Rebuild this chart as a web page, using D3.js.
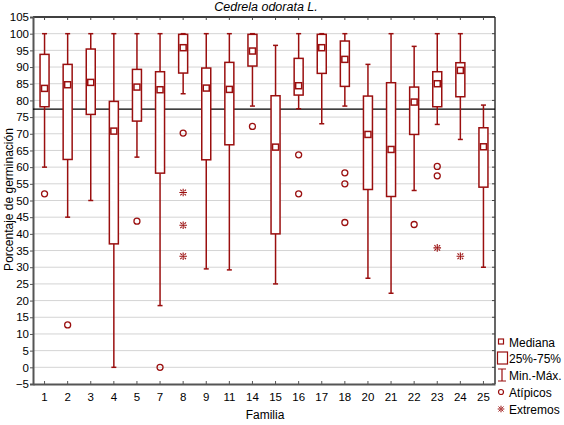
<!DOCTYPE html>
<html lang="es">
<head>
<meta charset="utf-8">
<title>Cedrela odorata L.</title>
<script src="https://d3js.org/d3.v7.min.js"></script>
<style>
  body { margin: 0; background: #fff; }
  svg { display: block; font-family: "Liberation Sans", Arial, sans-serif; }
</style>
</head>
<body>
<script>
// values
const familias = ["1","2","3","4","5","7","8","9","11","14","15","16","17","18","20","21","22","23","24","25"];
const minimos  = [60, 45, 50, 0, 63, 18.5, 82, 29.5, 29.2, 78.3, 25, 77.5, 73, 78.3, 26.7, 22.2, 53, 72.8, 68.3, 30];
const q1       = [78.1, 62.3, 75.8, 37, 73.8, 58.2, 88.2, 62.2, 66.7, 90.3, 40, 81.6, 88.1, 84.2, 53.3, 51.2, 69.8, 78.1, 81.1, 54];
const medianas = [83.6, 84.7, 85.4, 70.8, 84, 83.2, 95.8, 83.7, 83.3, 94.8, 66, 84.4, 95.8, 92.3, 69.8, 65.3, 79.5, 85, 89, 66.1];
const q3       = [93.8, 90.8, 95.4, 79.7, 89.3, 88.6, 99.8, 89.7, 91.4, 99.8, 81.4, 92.6, 99.8, 97.8, 81.3, 85.3, 84, 88.6, 91.3, 71.8];
const maximos  = [100, 100, 100, 100, 100, 100, 100, 100, 100, 100, 96.5, 100, 100, 100, 90.8, 100, 96.2, 100, 100, 78.6];
const atipicos = [[52], [12.7], [], [], [43.8], [0], [70.2], [], [], [72.2], [], [63.7, 52], [], [58.3, 55, 43.4], [], [], [42.8], [60.2, 57.4], [], []];
const extremos = [[], [], [], [], [], [], [52.4, 42.6, 33.3], [], [], [], [], [], [], [], [], [], [], [35.8], [33.3], []];
const media = 77.4;
const yTicks = d3.range(-5, 106, 5);

const W = 564, H = 425;
const m = { top: 17, right: 69, bottom: 41, left: 33 };
const red = "#9a0f0f";
const fs = 12;

const svg = d3.select("body").append("svg").attr("width", W).attr("height", H);

const x = d3.scaleBand().domain(familias).range([m.left, W - m.right]).padding(0);
const y = d3.scaleLinear().domain([-5, 105]).range([H - m.bottom, m.top]);

// grid
svg.append("g")
  .selectAll("line").data(yTicks.filter(d => d > -5 && d < 105)).enter()
  .append("line")
  .attr("x1", m.left).attr("x2", W - m.right)
  .attr("y1", d => y(d)).attr("y2", d => y(d))
  .attr("stroke", "#d4d4d4").attr("stroke-width", 1);

// frame
svg.append("line").attr("x1", m.left).attr("x2", W - m.right)
  .attr("y1", m.top).attr("y2", m.top).attr("stroke", "#000").attr("stroke-width", 1.3);
svg.append("line").attr("x1", W - m.right).attr("x2", W - m.right)
  .attr("y1", m.top).attr("y2", H - m.bottom).attr("stroke", "#000").attr("stroke-width", 1.2);

// inner ticks on top / right
svg.append("g").selectAll("line").data(familias).enter().append("line")
  .attr("x1", d => x(d) + x.bandwidth() / 2).attr("x2", d => x(d) + x.bandwidth() / 2)
  .attr("y1", m.top).attr("y2", m.top + 3).attr("stroke", "#444");
svg.append("g").selectAll("line").data(yTicks).enter().append("line")
  .attr("x1", W - m.right - 3).attr("x2", W - m.right)
  .attr("y1", d => y(d)).attr("y2", d => y(d)).attr("stroke", "#444");

// axes
const yAxis = svg.append("g")
  .attr("transform", `translate(${m.left},0)`)
  .call(d3.axisLeft(y).tickValues(yTicks).tickSize(3).tickPadding(1).tickFormat(d3.format("d")));
yAxis.select(".domain").attr("stroke", "#555").attr("stroke-width", 2);
yAxis.selectAll(".tick line").attr("stroke", "#555");
yAxis.selectAll("text").attr("font-size", 11.5).attr("fill", "#000")
  .attr("font-family", "Liberation Sans, Arial, sans-serif");

const xAxis = svg.append("g")
  .attr("transform", `translate(0,${H - m.bottom})`)
  .call(d3.axisBottom(x).tickSize(-3).tickSizeOuter(0).tickPadding(9));
xAxis.select(".domain").attr("stroke", "#555").attr("stroke-width", 2);
xAxis.selectAll(".tick line").attr("stroke", "#555");
xAxis.selectAll("text").attr("font-size", 11.5).attr("fill", "#000")
  .attr("font-family", "Liberation Sans, Arial, sans-serif");

// mean line
svg.append("line").attr("x1", m.left).attr("x2", W - m.right)
  .attr("y1", y(media)).attr("y2", y(media)).attr("stroke", "#000").attr("stroke-width", 1.3);

// boxes
const rows = familias.map((f, i) => ({
  f, lo: minimos[i], q1: q1[i], med: medianas[i], q3: q3[i], hi: maximos[i],
  out: atipicos[i], ext: extremos[i]
}));
const bw = 9, cap = 2.5, ms = 6;
const g = svg.append("g").selectAll("g").data(rows).enter().append("g")
  .attr("transform", d => `translate(${x(d.f) + x.bandwidth() / 2},0)`);

g.append("line").attr("y1", d => y(d.hi)).attr("y2", d => y(d.q3))
  .attr("stroke", red).attr("stroke-width", 1.5);
g.append("line").attr("y1", d => y(d.q1)).attr("y2", d => y(d.lo))
  .attr("stroke", red).attr("stroke-width", 1.5);
g.append("line").attr("x1", -cap).attr("x2", cap).attr("y1", d => y(d.hi)).attr("y2", d => y(d.hi))
  .attr("stroke", red).attr("stroke-width", 1.5);
g.append("line").attr("x1", -cap).attr("x2", cap).attr("y1", d => y(d.lo)).attr("y2", d => y(d.lo))
  .attr("stroke", red).attr("stroke-width", 1.5);
g.append("rect").attr("x", -bw / 2).attr("width", bw)
  .attr("y", d => y(d.q3)).attr("height", d => y(d.q1) - y(d.q3))
  .attr("fill", "#fff").attr("stroke", red).attr("stroke-width", 1.5);
g.append("rect").attr("x", -ms / 2).attr("width", ms)
  .attr("y", d => y(d.med) - ms / 2).attr("height", ms)
  .attr("fill", "#fff").attr("stroke", red).attr("stroke-width", 1.5);

g.selectAll("circle").data(d => d.out).enter().append("circle")
  .attr("cy", d => y(d)).attr("r", 3)
  .attr("fill", "none").attr("stroke", red).attr("stroke-width", 1.3);

// asterisk: plus with short diagonals
function star(s) {
  const d = s * 0.75, e = s * 0.35;
  return `M0,${-s}V${s}M${-s},0H${s}` +
    `M${-d},${-d}L${-e},${-e}M${d},${-d}L${e},${-e}M${-d},${d}L${-e},${e}M${d},${d}L${e},${e}`;
}
g.selectAll("path.ext").data(d => d.ext).enter().append("path")
  .attr("class", "ext")
  .attr("transform", d => `translate(0,${y(d)})`)
  .attr("d", star(3.8)).attr("stroke", red).attr("stroke-width", 1.1).attr("fill", "none");

// titles
svg.append("text").attr("x", 266).attr("y", 11).attr("text-anchor", "middle")
  .attr("font-size", 12.5).attr("font-style", "italic").text("Cedrela odorata L.");
svg.append("text").attr("x", 265).attr("y", 419).attr("text-anchor", "middle")
  .attr("font-size", fs).text("Familia");
svg.append("text").attr("transform", `translate(13,${y(50) - 1}) rotate(-90)`)
  .attr("text-anchor", "middle").attr("font-size", fs).text("Porcentaje de germinación");

// legend
const lg = svg.append("g").attr("transform", "translate(497,0)");
const ly = [342, 358, 375, 392, 409];
const labels = ["Mediana", "25%-75%", "Min.-Máx.", "Atípicos", "Extremos"];
lg.selectAll("text").data(labels).enter().append("text")
  .attr("x", 12).attr("y", (d, i) => ly[i] + 4.5).attr("font-size", fs).text(d => d);
lg.append("rect").attr("x", 1.5).attr("y", ly[0] - 3).attr("width", 5).attr("height", 5)
  .attr("fill", "#fff").attr("stroke", red).attr("stroke-width", 1.2);
lg.append("rect").attr("x", 0.5).attr("y", ly[1] - 6).attr("width", 10).attr("height", 12)
  .attr("fill", "#fff").attr("stroke", red).attr("stroke-width", 1.2);
lg.append("path").attr("d", `M1,${ly[2] - 6}H9M5,${ly[2] - 6}V${ly[2] + 6}M1,${ly[2] + 6}H9`)
  .attr("stroke", red).attr("stroke-width", 1.2).attr("fill", "none");
lg.append("circle").attr("cx", 4).attr("cy", ly[3]).attr("r", 2.5)
  .attr("fill", "none").attr("stroke", red).attr("stroke-width", 1.2);
lg.append("path").attr("transform", `translate(4,${ly[4]})`).attr("d", star(3.3))
  .attr("stroke", red).attr("stroke-width", 1).attr("fill", "none");
</script>
</body>
</html>
